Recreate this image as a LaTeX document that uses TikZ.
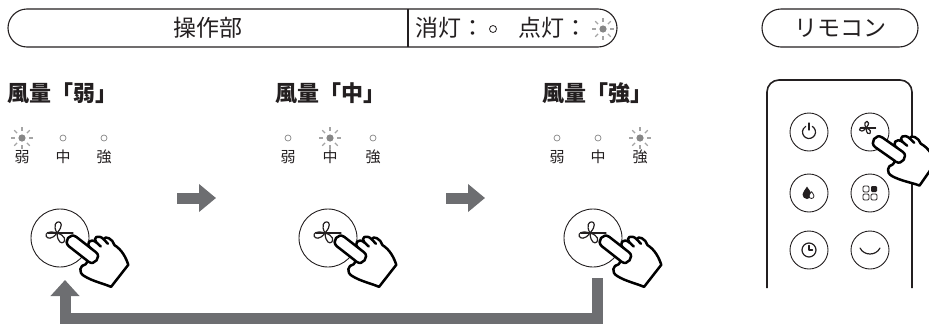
\documentclass[tikz,border=0pt]{standalone}
\usepackage{fontspec}
\newfontfamily\jp{Noto Sans CJK JP}
\usetikzlibrary{arrows.meta}

\definecolor{ink}{RGB}{35,31,32}
\definecolor{flowgray}{RGB}{109,110,113}
\definecolor{lampgray}{RGB}{135,135,135}
\definecolor{raygray}{RGB}{165,165,165}

\tikzset{
  outline/.style={draw=ink, line width=1.1pt},
  heading/.style={font=\jp\bfseries\fontsize{22pt}{26pt}\selectfont, text=ink, inner sep=0pt},
  paneltext/.style={font=\jp\fontsize{23pt}{27pt}\selectfont, text=ink, inner sep=0pt},
  lamplabel/.style={font=\jp\fontsize{15pt}{18pt}\selectfont, text=ink, inner sep=0pt},
  lampoff/.style={draw=lampgray, line width=0.7pt},
  flow/.style={draw=flowgray, line width=11pt, line join=miter,
    -{Triangle[width=27pt,length=17pt]}},
  handline/.style={draw=black, fill=white, line width=2.5pt, line join=round, line cap=round},
  keyring/.style={draw=ink, line width=0.9pt},
  glyph/.style={draw=ink, line width=1.2pt, line cap=round, line join=round},
  lit/.pic={
    \fill[lampgray] (0,0) circle (3.6);
    \foreach \a in {0,45,...,315}
      \draw[raygray, line width=1.3pt] (\a:7) -- (\a:11);
  },
  fan/.pic={
    \foreach \r in {60,175,285}
      \draw[glyph, rotate=\r] (0,0) .. controls (9,-15) and (19,4) .. (0,0);
    \draw[glyph] (-9,0) -- (16,0);
  },
  pointer/.pic={
    \draw[handline] (-6,30) -- (-6,6) .. controls (-6,-2) and (6,-2) .. (6,6) -- (6,24)
      .. controls (6,17) and (14,17) .. (14,25)
      .. controls (15,19) and (22,21) .. (21,29)
      .. controls (25,27) and (27,36) .. (23,41)
      .. controls (24,50) and (20,58) .. (16,64)
      -- (-12,64)
      .. controls (-14,56) and (-19,46) .. (-20,36)
      .. controls (-21,29) and (-14,26) .. (-10,30)
      -- cycle;
    \draw[handline, fill=none] (6,24) -- (6,31) .. controls (6,38) and (-6,38) .. (-6,31);
    \draw[handline, fill=none] (14,25) -- (13.5,31);
    \draw[handline, fill=none] (21,29) -- (20,35);
  }
}

\begin{document}
\begin{tikzpicture}[x=1pt, y=-1pt]
\useasboundingbox (0,0) rectangle (929,327);

% ---- control panel legend bar
\draw[outline, rounded corners=19pt] (8,9) rectangle (617,47);
\coordinate (divtop) at (408,9);
\coordinate (divbot) at (408,47);
\draw[outline] (divtop) -- (divbot);
\node[paneltext] (panelname) at (208,28) {操作部};
\node[paneltext, anchor=west] (offtext) at (415,28) {消灯：};
\draw[ink, line width=0.8pt] (493,29) circle (3.5);
\node[paneltext, anchor=west] (ontext) at (518,28) {点灯：};
\pic at (603,29) {lit};

% ---- remote legend pill
\node[paneltext, draw=ink, line width=1.1pt, rounded corners=19pt,
      minimum width=156pt, minimum height=38pt] (remotename) at (840,28) {リモコン};

% ---- headings
\node[heading] (h1) at (63,93) {風量「弱」};
\node[heading] (h2) at (330,93) {風量「中」};
\node[heading] (h3) at (597,93) {風量「強」};

% ---- lamp rows
\foreach \n/\xa/\xb/\xc in {1/22/63/104, 2/288/330/373, 3/557/598/640} {
  \node[lamplabel] (w\n) at (\xa,157) {弱};
  \node[lamplabel] (m\n) at (\xb,157) {中};
  \node[lamplabel] (s\n) at (\xc,157) {強};
}
\pic at (22,138) {lit};
\draw[lampoff] (63,138) circle (3);
\draw[lampoff] (104,138) circle (3);
\draw[lampoff] (288,138) circle (3);
\pic at (330,138) {lit};
\draw[lampoff] (373,138) circle (3);
\draw[lampoff] (557,138) circle (3);
\draw[lampoff] (598,138) circle (3);
\pic at (640,138) {lit};

% ---- fan buttons with pressing hands
\foreach \n/\cx in {1/60, 2/328, 3/593} {
  \node[keyring, circle, minimum size=58pt, inner sep=0pt] (btn\n) at (\cx,238) {};
  \pic at ([shift={(-3,-5)}]btn\n.center) {fan};
  \pic[rotate=52] at ([shift={(8,0)}]btn\n.center) {pointer};
}

% ---- step arrows
\coordinate (a1s) at (177,198);
\coordinate (a1e) at (216,198);
\coordinate (a2s) at (446,198);
\coordinate (a2e) at (485,198);
\draw[flow] (a1s) -- (a1e);
\draw[flow] (a2s) -- (a2e);

% ---- return arrow
\coordinate (rs) at (597,278);
\coordinate (rc1) at (597,318);
\coordinate (rc2) at (65,318);
\coordinate (re) at (65,280);
\draw[flow, -{Triangle[width=28pt,length=16pt]}] (rs) -- (rc1) -- (rc2) -- (re);

% ---- remote control
\draw[draw=ink, line width=1.6pt, rounded corners=12pt] (767,288) -- (767,80) -- (912,80) -- (912,288);
\foreach \k/\x/\y in {pw/809/132, fn/870/132, dr/809/193, md/870/193, tm/809/250, sl/870/250}
  \node[keyring, circle, minimum size=38pt, inner sep=0pt] (\k) at (\x,\y) {};

% power
\begin{scope}[shift={(809,132)}]
  \draw[glyph] (300:6.5) arc[start angle=300, end angle=600, radius=6.5];
  \draw[glyph] (0,-9) -- (0,-2);
\end{scope}
% fan
\pic[scale=0.6] at (866,128) {fan};
% humidity drop
\begin{scope}[shift={(808,193)}]
  \fill[ink] (-1,-6.5) .. controls (-3,-3) and (-5.5,-1) .. (-5.5,1.5)
    arc[start angle=180, end angle=0, radius=4.5]
    .. controls (3.5,-1) and (1,-3) .. (-1,-6.5);
  \draw[draw=ink, fill=white, line width=0.8pt] (3.5,-1.5) .. controls (2.5,0.5) and (1,1.5) .. (1,3)
    arc[start angle=180, end angle=0, radius=2.5]
    .. controls (6,1.5) and (4.5,0.5) .. (3.5,-1.5);
\end{scope}
% mode grid
\begin{scope}[shift={(870,193)}]
  \draw[ink, line width=0.9pt, rounded corners=1.2pt] (-7,-7) rectangle (-1,-1);
  \fill[ink, rounded corners=1.2pt] (1,-7) rectangle (7,-1);
  \draw[ink, line width=0.9pt, rounded corners=1.2pt] (-7,1) rectangle (-1,7);
  \draw[ink, line width=0.9pt, rounded corners=1.2pt] (1,1) rectangle (7,7);
\end{scope}
% timer
\begin{scope}[shift={(809,250)}]
  \draw[glyph] (0,0) circle (7);
  \draw[glyph] (0,-4.5) -- (0,0) -- (3.5,0);
\end{scope}
% sleep
\begin{scope}[shift={(870,250)}]
  \draw[glyph] (-10,-2) .. controls (-6,6) and (6,6) .. (10,-2);
\end{scope}
\pic[rotate=55] at (874,139) {pointer};

\end{tikzpicture}
\end{document}
